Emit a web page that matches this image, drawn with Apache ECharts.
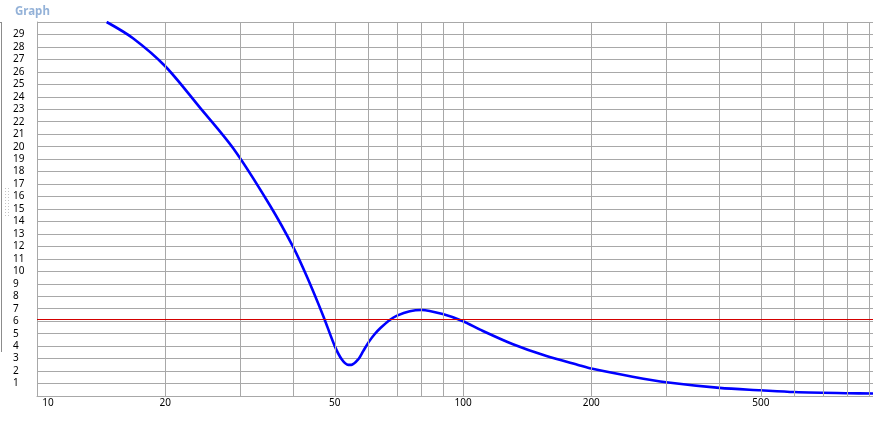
<!DOCTYPE html>
<html>
<head>
<meta charset="UTF-8">
<title>Graph</title>
<script src="https://cdn.jsdelivr.net/npm/echarts@6/dist/echarts.min.js"></script>
<style>
  * { margin: 0; padding: 0; }
  html, body { background: #fff; }
  #app { width: 873px; height: 433px; }
</style>
</head>
<body>
<div id="app"></div>
<script>
// curve (x on log scale)
var freq = [14.57, 16.8, 20, 24.1, 28.9, 35.2, 40, 43.1, 47, 50, 51.9, 53.8, 54.7, 56.8, 58.3, 60, 62, 64, 67.3, 70, 75, 80, 90, 100, 110, 131, 157, 188, 200, 250, 300, 400, 500, 600, 800, 917];
var level = [30, 28.7, 26.45, 23.15, 19.85, 15.3, 11.9, 9.5, 6.4, 4.0, 2.95, 2.5, 2.5, 2.95, 3.6, 4.3, 4.95, 5.45, 6.1, 6.45, 6.8, 6.9, 6.55, 6.0, 5.3, 4.15, 3.2, 2.45, 2.2, 1.55, 1.1, 0.65, 0.46, 0.32, 0.22, 0.2];
var refLevel = 6.15;

// vertical grid lines and the ones that carry a label
var xGrid = [10, 20, 30, 40, 50, 60, 70, 80, 90, 100, 200, 300, 400, 500, 600, 700, 800, 900];
var xLabels = [10, 20, 50, 100, 200, 500];

var gridColor = '#a8a8a8';
var chart = echarts.init(document.getElementById('app'));

var vLines = xGrid.map(function (v) {
  var item = { xAxis: v, label: { show: xLabels.indexOf(v) >= 0 } };
  if (v === 10) item.label.offset = [11, 0];
  return item;
});

chart.setOption({
  animation: false,
  title: {
    text: 'Graph',
    left: 10, top: 1,
    textStyle: { color: '#94b2d8', fontSize: 11.5, fontWeight: 'bold', fontFamily: 'Noto Sans' }
  },
  grid: { left: 37, right: 0, top: 22, bottom: 37 },
  xAxis: {
    type: 'log', logBase: 10, min: 10, max: 917,
    axisLine: { show: true, onZero: false, lineStyle: { color: gridColor } },
    axisTick: { show: false },
    axisLabel: { show: false },
    splitLine: { show: false },
    minorTick: { show: false },
    minorSplitLine: { show: false }
  },
  yAxis: {
    type: 'value', min: 0, max: 30, interval: 1,
    axisLine: { show: true, lineStyle: { color: gridColor } },
    axisTick: { show: false },
    axisLabel: {
      showMinLabel: false, showMaxLabel: false,
      align: 'left', margin: 24,
      color: '#000', fontSize: 10, fontFamily: 'Noto Sans'
    },
    splitLine: { show: true, lineStyle: { color: gridColor, width: 1 } }
  },
  graphic: [
    { type: 'line', shape: { x1: 1.5, y1: 22, x2: 1.5, y2: 352 }, style: { stroke: '#8c8c8c', lineWidth: 1 } },
    { type: 'line', shape: { x1: 0, y1: 22.5, x2: 2, y2: 22.5 }, style: { stroke: '#8c8c8c', lineWidth: 1 } },
    { type: 'line', shape: { x1: 5.5, y1: 188, x2: 5.5, y2: 217 }, style: { stroke: '#c4c4c4', lineWidth: 1, lineDash: [1, 2] } },
    { type: 'line', shape: { x1: 8.5, y1: 188, x2: 8.5, y2: 217 }, style: { stroke: '#c4c4c4', lineWidth: 1, lineDash: [1, 2] } }
  ],
  series: [
    {
      name: 'grid',
      type: 'line',
      data: [],
      z: 1,
      silent: true,
      markLine: {
        silent: true,
        symbol: 'none',
        animation: false,
        lineStyle: { color: gridColor, type: 'solid', width: 1 },
        label: {
          position: 'start', distance: 2,
          formatter: function (p) { return String(p.value); },
          color: '#000', fontSize: 10, fontFamily: 'Noto Sans'
        },
        data: vLines
      }
    },
    {
      name: 'curve',
      type: 'line',
      z: 3,
      data: freq.map(function (f, i) { return [f, level[i]]; }),
      smooth: 0.3,
      showSymbol: false,
      clip: true,
      lineStyle: { color: '#0000ff', width: 2.6 },
      markLine: {
        silent: true,
        symbol: 'none',
        label: { show: false },
        lineStyle: { color: '#d40000', type: 'solid', width: 1.2 },
        data: [{ yAxis: refLevel }]
      }
    }
  ]
});
</script>
</body>
</html>
